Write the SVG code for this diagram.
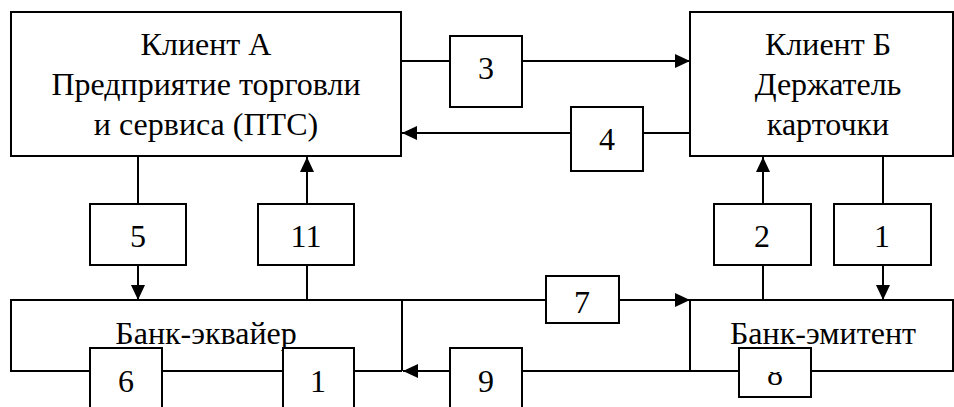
<svg xmlns="http://www.w3.org/2000/svg" width="954" height="407" viewBox="0 0 954 407">
<style>
.b{fill:#fff;stroke:#000;stroke-width:2}
.l{fill:none;stroke:#000;stroke-width:2}
.a{marker-end:url(#ah)}
text{font-family:"Liberation Serif",Tinos,"Times New Roman",serif;font-size:32px;text-anchor:middle;fill:#000}
</style>
<defs>
<marker id="ah" markerUnits="userSpaceOnUse" markerWidth="16" markerHeight="16" viewBox="0 0 16 16" refX="15" refY="8" orient="auto">
<path d="M0,1 L15,8 L0,15 Z" fill="#000"/>
</marker>
<clipPath id="c8"><rect x="739" y="372" width="72" height="25"/></clipPath>
</defs>
<rect width="954" height="407" fill="#fff"/>
<g id="connectors">
<line class="l" x1="401" y1="61" x2="450" y2="61"/>
<line class="l a" x1="522" y1="61" x2="690" y2="61"/>
<line class="l" x1="690" y1="133" x2="643" y2="133"/>
<line class="l a" x1="571" y1="133" x2="402" y2="133"/>
<line class="l" x1="138" y1="156" x2="138" y2="204"/>
<line class="l a" x1="138" y1="265" x2="138" y2="300"/>
<line class="l" x1="307" y1="300" x2="307" y2="265"/>
<line class="l a" x1="307" y1="204" x2="307" y2="157"/>
<line class="l" x1="763" y1="300" x2="763" y2="265"/>
<line class="l a" x1="763" y1="204" x2="763" y2="157"/>
<line class="l" x1="883" y1="156" x2="883" y2="204"/>
<line class="l a" x1="883" y1="265" x2="883" y2="300"/>
<line class="l" x1="402" y1="300" x2="546" y2="300"/>
<line class="l a" x1="619" y1="300" x2="690" y2="300"/>
<line class="l" x1="402" y1="300" x2="402" y2="371"/>
<line class="l" x1="162" y1="371" x2="283" y2="371"/>
<line class="l" x1="354" y1="371" x2="402" y2="371"/>
<line class="l a" x1="450" y1="371" x2="403" y2="371"/>
<line class="l" x1="522" y1="371" x2="690" y2="371"/>
</g>
<g id="client-a">
<rect class="b" x="11" y="12" width="390" height="144"/>
<text x="206" y="55" font-family="Liberation Serif">Клиент А</text>
<text x="206" y="95" font-family="Liberation Serif">Предприятие торговли</text>
<text x="206" y="135" font-family="Liberation Serif">и сервиса (ПТС)</text>
</g>
<g id="client-b">
<rect class="b" x="690" y="12" width="263" height="144"/>
<text x="828" y="55" font-family="Liberation Serif">Клиент Б</text>
<text x="828" y="95" font-family="Liberation Serif">Держатель</text>
<text x="828" y="135" font-family="Liberation Serif">карточки</text>
</g>
<g id="bank-acquirer">
<path class="l" d="M402,300 H11 V371 H90"/>
<text x="206" y="344" font-family="Liberation Serif">Банк-эквайер</text>
</g>
<g id="bank-issuer">
<path class="l" d="M811,371 H953 V300 H690 V371 H739"/>
<text x="823" y="344" font-family="Liberation Serif">Банк-эмитент</text>
</g>
<g id="n3"><rect class="b" x="450" y="36" width="72" height="71"/><text x="486" y="79" font-family="Liberation Serif">3</text></g>
<g id="n4"><rect class="b" x="571" y="107" width="72" height="64"/><text x="607" y="150" font-family="Liberation Serif">4</text></g>
<g id="n5"><rect class="b" x="90" y="204" width="96" height="61"/><text x="138" y="247" font-family="Liberation Serif">5</text></g>
<g id="n11"><rect class="b" x="258" y="204" width="96" height="61"/><text x="306" y="247" font-family="Liberation Serif">11</text></g>
<g id="n2"><rect class="b" x="714" y="204" width="97" height="61"/><text x="762" y="247" font-family="Liberation Serif">2</text></g>
<g id="n1a"><rect class="b" x="834" y="204" width="97" height="61"/><text x="882" y="247" font-family="Liberation Serif">1</text></g>
<g id="n7"><rect class="b" x="546" y="276" width="73" height="47"/><text x="582" y="313" font-family="Liberation Serif">7</text></g>
<g id="n6"><rect class="b" x="90" y="348" width="72" height="70"/><text x="126" y="392" font-family="Liberation Serif">6</text></g>
<g id="n1b"><rect class="b" x="283" y="348" width="71" height="70"/><text x="318" y="392" font-family="Liberation Serif">1</text></g>
<g id="n9"><rect class="b" x="450" y="348" width="72" height="70"/><text x="486" y="392" font-family="Liberation Serif">9</text></g>
<g id="n8"><rect class="b" x="739" y="348" width="72" height="49"/><text x="775" y="385" font-family="Liberation Serif" clip-path="url(#c8)">8</text></g>
</svg>
